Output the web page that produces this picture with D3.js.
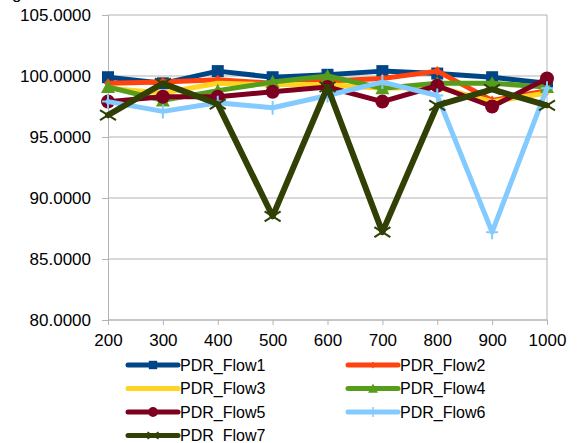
<!DOCTYPE html>
<html><head><meta charset="utf-8">
<script src="https://cdn.jsdelivr.net/npm/d3@7"></script>
<style>body{margin:0;background:#fff}svg{display:block}text{font-family:"Liberation Sans",Arial,sans-serif;fill:#000}</style>
</head><body><svg id="c" width="581" height="443"></svg>
<script>
const categories = [200, 300, 400, 500, 600, 700, 800, 900, 1000];
const yTicks = [80, 85, 90, 95, 100, 105];
const seriesNames = ["PDR_Flow1","PDR_Flow2","PDR_Flow3","PDR_Flow4","PDR_Flow5","PDR_Flow6","PDR_Flow7"];
const flow1 = [99.9, 99.4, 100.4, 99.9, 100.1, 100.4, 100.2, 99.9, 99.4];
const flow2 = [99.4, 99.5, 99.7, 99.4, 99.6, 99.8, 100.4, 98.0, 98.8];
const flow3 = [99.0, 98.6, 99.4, 99.3, 99.3, 99.0, 99.1, 97.9, 98.6];
const flow4 = [99.1, 98.0, 98.8, 99.5, 100.0, 99.0, 99.4, 99.4, 99.1];
const flow5 = [97.9, 98.3, 98.3, 98.7, 99.1, 97.9, 99.2, 97.5, 99.8];
const flow6 = [97.9, 97.1, 97.8, 97.4, 98.4, 99.5, 98.4, 87.2, 99.0];
const flow7 = [96.8, 99.4, 97.7, 88.5, 99.1, 87.2, 97.6, 98.9, 97.6];
const seriesValues = [flow1, flow2, flow3, flow4, flow5, flow6, flow7];
const colors = ["#004586","#ff420e","#ffd320","#579d1c","#7e0021","#83caff","#314004"];
const markers = ["square","diamond","none","triangle","circle","plus","cross"];

const svg = d3.select("#c");
const L = 108, R = 547, T = 15, B = 320;
const x = d3.scalePoint().domain(categories).range([L, R]);
const y = d3.scaleLinear().domain([80, 105]).range([B, T]);

// cut-off title fragment
svg.append("text").attr("x", 12).attr("y", -1).attr("font-size", 17).text("g");

// gridlines
svg.append("g").selectAll("line").data(yTicks).join("line")
  .attr("x1", L).attr("x2", R).attr("y1", d => y(d)).attr("y2", d => y(d))
  .attr("stroke", "#b3b3b3").attr("stroke-width", 1);
// frame right
svg.append("line").attr("x1", R).attr("x2", R).attr("y1", T).attr("y2", B).attr("stroke", "#b3b3b3");

// y axis
const ya = svg.append("g").attr("transform", `translate(${L},0)`)
  .call(d3.axisLeft(y).tickValues(yTicks).tickSize(6).tickPadding(11).tickFormat(d3.format(".4f")));
ya.selectAll("path,line").attr("stroke", "#b3b3b3");
ya.selectAll("text").attr("font-size", 17).attr("font-family", "Liberation Sans, Arial, sans-serif").attr("fill", "#000");

// x axis
const xa = svg.append("g").attr("transform", `translate(0,${B})`)
  .call(d3.axisBottom(x).tickSize(5).tickPadding(9).tickSizeOuter(0));
xa.select(".domain").attr("stroke", "#b3b3b3").attr("d", `M${L},0H${R}`);
xa.selectAll("line").attr("stroke", "#b3b3b3");
xa.selectAll("text").attr("font-size", 17).attr("font-family", "Liberation Sans, Arial, sans-serif").attr("fill", "#000");

function drawMarker(g, type, cx, cy, color) {
  if (type === "square") g.append("rect").attr("x", cx-6).attr("y", cy-6).attr("width", 12).attr("height", 12).attr("fill", color);
  else if (type === "diamond") g.append("path").attr("d", `M${cx},${cy-5}L${cx+4},${cy}L${cx},${cy+5}L${cx-4},${cy}Z`).attr("fill", color);
  else if (type === "triangle") g.append("path").attr("d", `M${cx},${cy-7}L${cx+7},${cy+6}L${cx-7},${cy+6}Z`).attr("fill", color);
  else if (type === "circle") g.append("circle").attr("cx", cx).attr("cy", cy).attr("r", 7).attr("fill", color);
  else if (type === "plus") g.append("path").attr("d", `M${cx-6},${cy}H${cx+6}M${cx},${cy-7}V${cy+7}`).attr("stroke", color).attr("stroke-width", 2);
  else if (type === "cross") g.append("path").attr("d", `M${cx-8},${cy-5}L${cx+8},${cy+5}M${cx-8},${cy+5}L${cx+8},${cy-5}`).attr("stroke", color).attr("stroke-width", 2);
}

const line = d3.line().x((d, i) => x(categories[i])).y(d => y(d));
seriesValues.forEach((vals, si) => {
  const g = svg.append("g");
  g.append("path").attr("d", line(vals)).attr("fill", "none").attr("stroke", colors[si])
    .attr("stroke-width", si === 6 ? 6 : 5).attr("stroke-linejoin", "round").attr("stroke-linecap", "round");
  vals.forEach((v, i) => drawMarker(g, markers[si], x(categories[i]), y(v), colors[si]));
});

// legend
const lg = svg.append("g");
seriesNames.forEach((name, i) => {
  const col = i % 2, row = Math.floor(i / 2);
  const lx = col === 0 ? 128 : 348, ly = 365 + row * 23.5;
  lg.append("line").attr("x1", lx).attr("x2", lx + 50).attr("y1", ly).attr("y2", ly)
    .attr("stroke", colors[i]).attr("stroke-width", 5).attr("stroke-linecap", "round");
  const mg = lg.append("g");
  const sm = {square:1, diamond:1, triangle:1, circle:1, plus:1, cross:1};
  if (markers[i] !== "none") {
    mg.attr("transform", `translate(${lx+25},${ly}) scale(0.7) translate(${-(lx+25)},${-ly})`);
    drawMarker(mg, markers[i], lx + 25, ly, colors[i]);
  }
  lg.append("text").attr("x", lx + 52).attr("y", ly).attr("dy", "0.35em").attr("font-size", 16).text(name);
});
</script></body></html>
